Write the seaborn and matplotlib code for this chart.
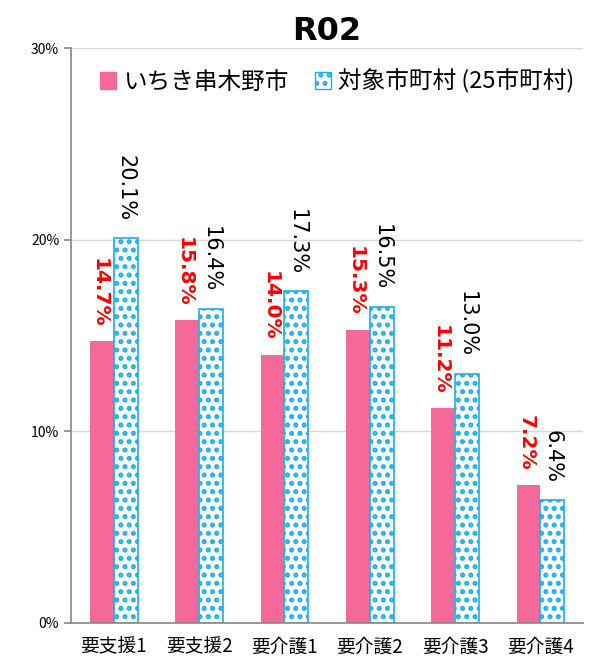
import pandas as pd
import seaborn as sns
import matplotlib.pyplot as plt
from matplotlib.patches import Patch
from matplotlib.ticker import PercentFormatter

# data
categories = ['要支援1', '要支援2', '要介護1', '要介護2', '要介護3', '要介護4']
city_values = [14.7, 15.8, 14.0, 15.3, 11.2, 7.2]
target_values = [20.1, 16.4, 17.3, 16.5, 13.0, 6.4]
series_names = ['いちき串木野市', '対象市町村 (25市町村)']

df = pd.DataFrame({
    'category': categories * 2,
    'value': city_values + target_values,
    'series': [series_names[0]] * len(categories) + [series_names[1]] * len(categories),
})

sns.set_style('white')
plt.rcParams['font.family'] = ['Noto Sans CJK JP', 'DejaVu Sans']
plt.rcParams['hatch.linewidth'] = 2.4
plt.rcParams['text.color'] = 'black'
plt.rcParams['xtick.color'] = 'black'
plt.rcParams['ytick.color'] = 'black'

pink = '#F5689A'
blue = '#1AB0EE'

fig, ax = plt.subplots(figsize=(5.92, 6.59), dpi=100)
sns.barplot(data=df, x='category', y='value', hue='series', order=categories,
            hue_order=series_names, palette=[pink, 'white'], width=0.56,
            saturation=1, legend=False, ax=ax)

n = len(categories)
for i, p in enumerate(ax.patches[:2 * n]):
    if i < n:
        p.set_edgecolor(pink)
        p.set_linewidth(0)
    else:
        p.set_facecolor('white')
        p.set_edgecolor(blue)
        p.set_hatch('..')
        p.set_linewidth(1.2)

# value labels
for i, p in enumerate(ax.patches[:2 * n]):
    x = p.get_x() + p.get_width() / 2
    h = p.get_height()
    if i < n:
        ax.annotate(f'{h:.1f}%', (x - 0.03, h), xytext=(0, 10), textcoords='offset points',
                    rotation=270, ha='center', va='bottom', color='#FF0000',
                    fontsize=14.5, fontweight='bold', family='DejaVu Sans')
    else:
        ax.annotate(f'{h:.1f}%', (x, h), xytext=(0, 12), textcoords='offset points',
                    rotation=270, ha='center', va='bottom', color='black',
                    fontsize=15, family='DejaVu Sans')

ax.set_ylim(0, 30)
ax.set_xlim(-0.5, n - 0.5)
ax.set_yticks([0, 10, 20, 30])
ax.yaxis.set_major_formatter(PercentFormatter(decimals=0))
ax.yaxis.grid(True, color='#D9D9D9', linewidth=1)
ax.set_axisbelow(True)
ax.set_xlabel('')
ax.set_ylabel('')
ax.set_xticks([i - 0.5 for i in range(n + 1)], minor=True)
ax.tick_params(axis='x', which='major', length=0, labelsize=13.5, pad=10)
ax.tick_params(axis='x', which='minor', length=5, color='#888888', width=1.2)
ax.tick_params(axis='y', length=5, color='#888888', width=1.2, labelsize=10, left=True)
for side in ['top', 'right']:
    ax.spines[side].set_visible(False)
for side in ['left', 'bottom']:
    ax.spines[side].set_color('#888888')
    ax.spines[side].set_linewidth(1.2)

handles = [Patch(facecolor=pink, edgecolor=pink),
           Patch(facecolor='white', edgecolor=blue, hatch='..')]
ax.legend(handles, series_names, loc='upper center', bbox_to_anchor=(0.52, 1.0),
          ncol=2, frameon=False, fontsize=17, handlelength=0.7, handleheight=0.7,
          handletextpad=0.3, columnspacing=1.1)

ax.set_title('R02', fontsize=23, fontweight='bold', family='DejaVu Sans', pad=6)
fig.subplots_adjust(left=0.12, right=0.985, top=0.927, bottom=0.055)
fig.savefig('out.png', dpi=100)
